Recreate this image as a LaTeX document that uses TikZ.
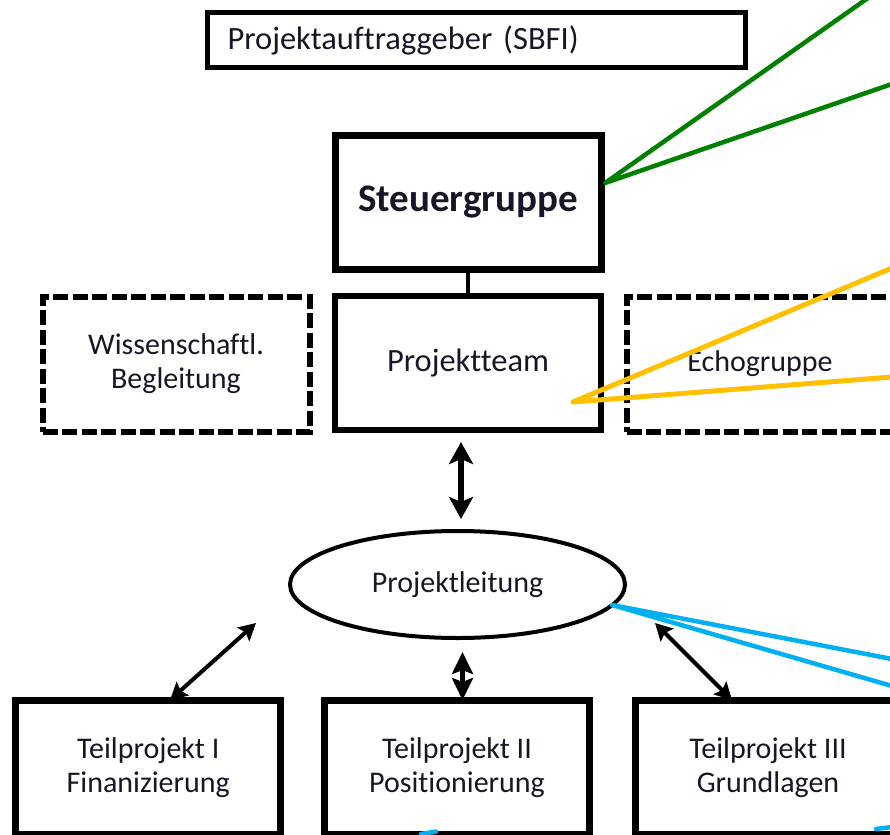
\documentclass[tikz,border=0pt]{standalone}
\usepackage{fontspec}
\setmainfont{Carlito}[Ligatures={NoCommon}]
\usepackage{tikz}
\usetikzlibrary{arrows.meta}
\usetikzlibrary{shapes.geometric}
\usepackage{xcolor}
\definecolor{grn}{RGB}{0,128,0}
\definecolor{ylw}{RGB}{255,192,0}
\definecolor{blu}{RGB}{0,176,240}
\definecolor{txt}{RGB}{22,22,38}
\def\boxW{266pt}
\def\boxH{134pt}
\def\fScale{\fontsize{30}{34}\selectfont}
\def\bigScale{\fontsize{32.5}{36}\selectfont}
\def\bfScale{\fontsize{39}{44}\selectfont\bfseries}
\def\lineThickness{6pt}
\tikzset{sbox/.style={draw=black,line width=\lineThickness,minimum width=\boxW,minimum height=\boxH,inner sep=0,align=center,text=txt,font=\fScale}}
\tikzset{dbox/.style={sbox,line width=6pt,dash pattern=on 15pt off 4.5pt,minimum width=267pt,minimum height=135pt}}
\tikzset{pbox/.style={sbox,line width=7pt,minimum width=265pt,minimum height=133.5pt}}
\tikzset{bigarr/.style={black,line width=6pt,{Stealth[length=22pt,width=24pt,inset=5pt]}-{Stealth[length=22pt,width=24pt,inset=5pt]}}}
\tikzset{midarr/.style={black,line width=4.5pt,{Stealth[length=22pt,width=21pt,inset=4pt]}-{Stealth[length=22pt,width=21pt,inset=4pt]}}}
\tikzset{smarr/.style={black,line width=4pt,{Stealth[length=17pt,width=18pt,inset=3pt]}-{Stealth[length=17pt,width=18pt,inset=3pt]}}}
\tikzset{note/.style={line width=4.5pt,line cap=round,line join=round}}

\begin{document}
\begin{tikzpicture}[x=1pt,y=-1pt]
\useasboundingbox (0,0) rectangle (890,834);\clip (0,0) rectangle (890,834);
% upper part
\node[sbox,line width=5pt,minimum width=538pt,minimum height=55pt,text width=498pt,align=left,font=\bigScale] (sbfi) at (476.5,40) {Projektauftraggeber (SBFI)};
\node[sbox,line width=7pt,font=\bfScale] (steer) at (468,202.5) {Steuergruppe};
\node[sbox,font=\bigScale] (team) at (468,362.5) {Projektteam};
\node[dbox] (wiss) at (176,364) {Wissenschaftl.\\Begleitung};
\node[dbox] (echo) at (760,364) {Echogruppe};
\draw[line width=4pt] (steer.south)--(team.north);
% lower part
\node[draw=black,line width=4pt,ellipse,minimum width=335pt,minimum height=107pt,inner sep=0,text=txt,font=\fScale] (lead) at (457.5,584.5) {Projektleitung};
\node[pbox] (tp1) at (148.25,767.25) {Teilprojekt I\\Finanizierung};
\node[pbox] (tp2) at (457,767.25) {Teilprojekt II\\Positionierung};
\node[pbox] (tp3) at (768,767.25) {Teilprojekt III\\Grundlagen};
\coordinate(a1) at (461,442);\coordinate(a2) at (461,519);
\coordinate(b1) at (256,623);\coordinate(b2) at (170,700);
\coordinate(c1) at (462.5,652);\coordinate(c2) at (462.5,700);
\coordinate(d1) at (655,623);\coordinate(d2) at (732,700);
\draw[bigarr] (a1)--(a2);\draw[smarr] (b1)--(b2);\draw[midarr] (c1)--(c2);\draw[smarr] (d1)--(d2);
% coloured marks
\coordinate(g0) at (605,183);\coordinate(g1) at (868,-2);\coordinate(g2) at (892,84);
\coordinate(y0) at (573,402);\coordinate(y1) at (892,268);\coordinate(y2) at (892,377);
\coordinate(k0) at (612,605);\coordinate(k1) at (892,659);\coordinate(k2) at (892,686);
\draw[note,grn] (g1)--(g0)--(g2);
\draw[note,ylw,line width=5pt] (y1)--(y0)--(y2);
\draw[note,blu] (k1)--(k0)--(k2);
\coordinate(k3) at (421,834);\coordinate(k4) at (436,831.5);\coordinate(k5) at (876,829);\coordinate(k6) at (892,827);
\draw[note,blu] (k3)--(k4);\draw[note,blu] (k5)--(k6);
\end{tikzpicture}
\end{document}
